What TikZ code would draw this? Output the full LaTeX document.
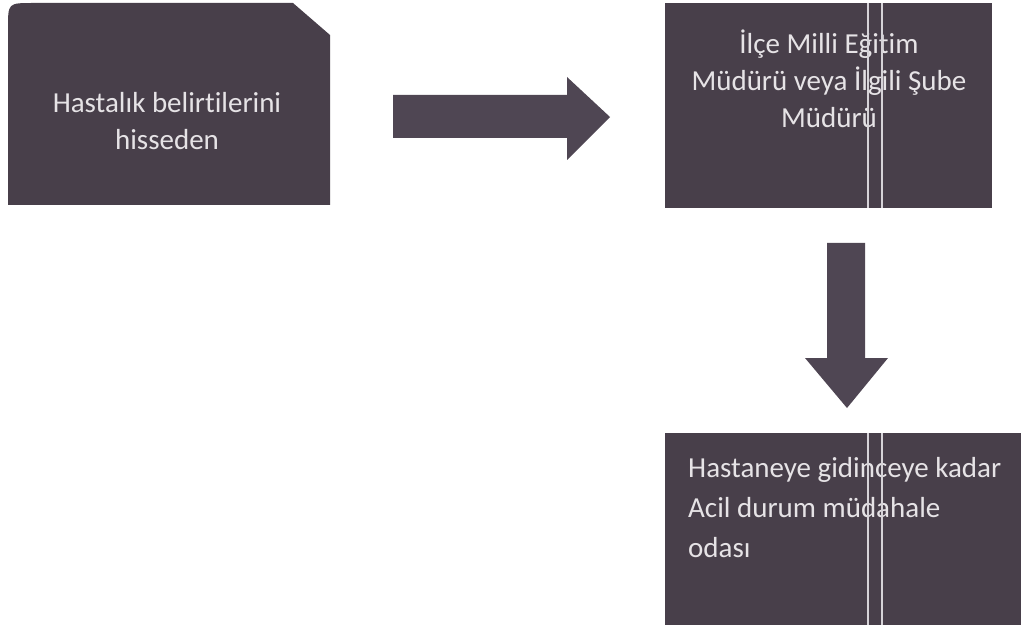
\documentclass[tikz,border=0pt]{standalone}
\usepackage{fontspec}
\setmainfont{Carlito}[Ligatures=NoCommon]
\usepackage{tikz}
\usetikzlibrary{calc}
\definecolor{boxfill}{HTML}{483F4A}
\definecolor{arrowfill}{HTML}{4F4653}
\definecolor{boxtext}{HTML}{E6E3E6}
\definecolor{scanline}{HTML}{D6D3D8}

\begin{document}
\begin{tikzpicture}[x=1pt,y=-1pt,
    boxlabel/.style={text=boxtext,font=\fontsize{29}{37}\selectfont,inner sep=0pt},
    blockarrow/.style={fill=arrowfill,draw=none}]
			\useasboundingbox (0,0) rectangle (1023,631);
			% first box, rounded top left, cut top right
			\fill[boxfill] (8,205) -- (8,28) .. controls (8,3) .. (33,3) -- (293,3) -- (330,35) -- (330,205) -- cycle;
			\node[boxlabel,align=center] (hisseden) at (167,121) {Hastalık belirtilerini\\hisseden};
			% second box
			\fill[boxfill] (665,3) rectangle (992,208);
			\node[boxlabel,align=center] (mudur) at (829,79) {İlçe Milli Eğitim\\Müdürü veya İlgili Şube\\Müdürü};
			% third box
			\fill[boxfill] (665,433) rectangle (1021,625);
			\node[boxlabel,align=left,anchor=west,font=\fontsize{29}{40}\selectfont] (oda) at (688,508) {Hastaneye gidinceye kadar\\Acil durum müdahale\\odası};
			% scan lines through the boxes
			\foreach \xs in {868,882} {
				\draw[scanline,line width=1.2pt] (\xs,3) -- (\xs,208);
				\draw[scanline,line width=1.2pt] (\xs,433) -- (\xs,625);
			}
			% block arrows
			\fill[blockarrow] (393,95) -- (567,95) -- (567,77) -- (610,117) -- (567,160) -- (567,138) -- (393,138) -- cycle;
			\fill[blockarrow] (827,243) -- (865,243) -- (865,358) -- (888,358) -- (847,408) -- (805,358) -- (827,358) -- cycle;
		\end{tikzpicture}
\end{document}
